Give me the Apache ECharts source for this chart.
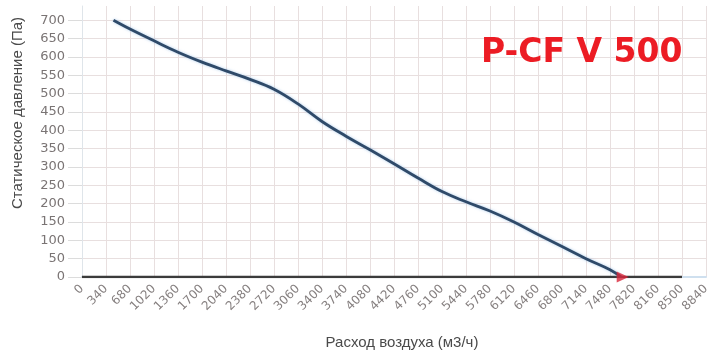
<!DOCTYPE html>
<html>
<head>
<meta charset="utf-8">
<script src="https://cdn.jsdelivr.net/npm/echarts@6/dist/echarts.min.js"></script>
<style>html,body{margin:0;padding:0;background:#fff;}#c{width:709px;height:351px;}</style>
</head>
<body>
<div id="c"></div>
<script>
var flowValues = [446, 680, 1020, 1360, 1700, 2040, 2380, 2720, 3060, 3400, 3740, 4080, 4420, 4760, 5100, 5440, 5780, 6120, 6460, 6800, 7140, 7480, 7640];
var pressureValues = [700, 676, 644, 613, 586, 562, 539, 512, 472, 424, 384, 347, 309, 270, 233, 205, 180, 150, 116, 83, 50, 20, 0];
var baseFlow = [0, 8500];
var baseValues = [0, 0];
var markerFlow = [7660];
var markerValues = [0];
var xMin = 0, xMax = 8840, xStep = 340;
var yMin = 0, yMax = 739, yStep = 50;
var chartTitle = 'P-CF V 500';
var xName = 'Расход воздуха (м3/ч)';
var yName = 'Статическое давление (Па)';

function pairs(xs, ys) { return xs.map(function (x, i) { return [x, ys[i]]; }); }

var gridColor = '#e8dfdf';
var ySplitColors = [];
for (var v = yMin; v <= 700; v += yStep) ySplitColors.push(gridColor);
ySplitColors.push('rgba(0,0,0,0)');

var chart = echarts.init(document.getElementById('c'));
chart.setOption({
  animation: false,
  backgroundColor: '#ffffff',
  grid: { left: 82, right: 3, top: 6, bottom: 74, containLabel: false, outerBoundsMode: 'none' },
  xAxis: {
    type: 'value', min: xMin, max: xMax, interval: xStep,
    name: xName, nameLocation: 'middle', nameGap: 58,
    nameTextStyle: { fontFamily: 'Liberation Sans', fontSize: 15, color: '#4a4a4a', padding: [0, 0, 0, 16] },
    axisLine: { show: true, lineStyle: { color: '#cfe0ef', width: 2 } },
    axisTick: { show: false },
    axisLabel: { rotate: 45, margin: 10, fontFamily: 'DejaVu Sans', fontSize: 12, color: '#857f7f',
      formatter: function (val) { return String(val); } },
    splitLine: { show: true, lineStyle: { color: gridColor, width: 1 } }
  },
  yAxis: {
    type: 'value', min: yMin, max: yMax, interval: yStep,
    axisLine: { show: true, lineStyle: { color: '#dfe5ea', width: 1 } },
    axisTick: { show: true, length: 14, lineStyle: { color: '#dcdcdc' } },
    axisLabel: { margin: 17, fontFamily: 'DejaVu Sans', fontSize: 13, color: '#7a7474', showMaxLabel: false,
      formatter: function (val) { return String(val); } },
    splitLine: { show: true, lineStyle: { color: ySplitColors, width: 1 } }
  },
  graphic: [
    { type: 'text', left: 481, top: 37, z: 100, style: { text: chartTitle, font: 'bold 33px "DejaVu Sans"', fill: '#ec1c24' } },
    { type: 'text', x: 18, y: 113, rotation: Math.PI / 2, z: 100,
      style: { text: yName, font: '15px "Liberation Sans"', fill: '#4a4a4a', align: 'center', verticalAlign: 'middle' } }
  ],
  series: [
    { type: 'line', data: pairs(baseFlow, baseValues), symbol: 'none', z: 3,
      lineStyle: { color: '#3b3b3b', width: 2.5 } },
    { type: 'line', data: pairs(flowValues, pressureValues), symbol: 'none', smooth: 0.4, z: 4,
      lineStyle: { color: '#2f4a69', width: 2.8, shadowColor: 'rgba(120,170,220,0.6)', shadowBlur: 3 } },
    { type: 'scatter', data: pairs(markerFlow, markerValues), symbol: 'triangle', symbolRotate: -90,
      symbolSize: [11, 12], z: 5, itemStyle: { color: '#d9263a' } }
  ]
});
</script>
</body>
</html>
